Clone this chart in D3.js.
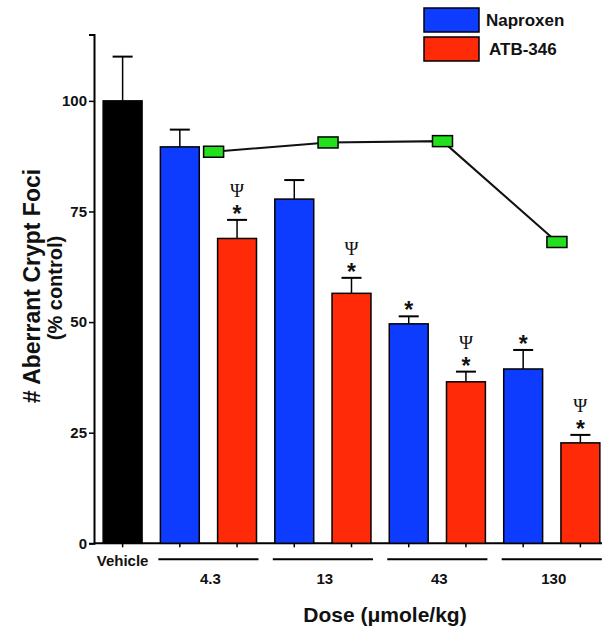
<!DOCTYPE html>
<html>
<head>
<meta charset="utf-8">
<script src="https://cdn.jsdelivr.net/npm/d3@7"></script>
<style>
  body { margin: 0; background: #fff; }
  text { font-family: "Liberation Sans", Arial, sans-serif; font-weight: bold; fill: #111; }
</style>
</head>
<body>
<script>
const bars = ['Vehicle', 'N4.3', 'A4.3', 'N13', 'A13', 'N43', 'A43', 'N130', 'A130']
const barKind = ['vehicle', 'nap', 'atb', 'nap', 'atb', 'nap', 'atb', 'nap', 'atb']
const barValues = [100, 89.6, 68.9, 77.8, 56.5, 49.6, 36.5, 39.4, 22.7]
const barErrors = [110, 93.5, 73.1, 82.1, 60.0, 51.3, 38.8, 43.7, 24.5]
const starMark = [false, false, true, false, true, true, true, true, true]
const psiMark = [false, false, true, false, true, false, true, false, true]
const doses = ['4.3', '13', '43', '130']
const doseBars = [['N4.3', 'A4.3'], ['N13', 'A13'], ['N43', 'A43'], ['N130', 'A130']]
const lineValues = [88.5, 90.6, 90.9, 68.1]
const yTicks = [0, 25, 50, 75, 100]
const legendLabels = ['Naproxen', 'ATB-346']

const color = { vehicle: '#000000', nap: '#0d3cff', atb: '#ff2a08' }

const width = 602
const height = 634

const svg = d3.select('body').append('svg')
  .attr('width', width)
  .attr('height', height)

const x = d3.scaleBand().domain(bars).range([94, 609]).paddingInner(0.32).paddingOuter(0.16)
const y = d3.scaleLinear().domain([0, 115]).range([543.3, 34.5])

// y axis
const yAxis = svg.append('g')
  .attr('transform', 'translate(94,0)')
  .call(d3.axisLeft(y).tickValues(yTicks).tickSize(5).tickPadding(2))
yAxis.select('.domain').attr('stroke', '#000').attr('stroke-width', 2)
yAxis.selectAll('.tick line').attr('stroke-width', 1.5)
yAxis.selectAll('.tick text').attr('font-size', 15)

// x axis baseline with ticks at bar centers
const xAxis = svg.append('g')
  .attr('transform', `translate(0,${y(0)})`)
  .call(d3.axisBottom(x).tickSize(4).tickFormat(''))
xAxis.select('.domain').attr('d', `M94,0H602`).attr('stroke', '#000').attr('stroke-width', 2)
xAxis.selectAll('.tick line').attr('stroke-width', 1.5)

// error bars
const errG = svg.append('g')
bars.forEach((b, i) => {
  const cx = x(b) + x.bandwidth() / 2
  errG.append('line').attr('x1', cx).attr('x2', cx).attr('y1', y(barValues[i])).attr('y2', y(barErrors[i]))
    .attr('stroke', '#000').attr('stroke-width', 1.5)
  errG.append('line').attr('x1', cx - 10).attr('x2', cx + 10).attr('y1', y(barErrors[i])).attr('y2', y(barErrors[i]))
    .attr('stroke', '#000').attr('stroke-width', 2)
})

// bars
svg.append('g').selectAll('rect')
  .data(bars)
  .enter()
  .append('rect')
  .attr('x', (d) => x(d))
  .attr('y', (d, i) => y(barValues[i]))
  .attr('width', x.bandwidth())
  .attr('height', (d, i) => y(0) - y(barValues[i]))
  .attr('fill', (d, i) => color[barKind[i]])
  .attr('stroke', '#000')
  .attr('stroke-width', 1.5)

// significance marks
bars.forEach((b, i) => {
  const cx = x(b) + x.bandwidth() / 2
  const top = y(barErrors[i])
  if (starMark[i]) {
    svg.append('text').attr('x', cx).attr('y', top + 2).attr('text-anchor', 'middle')
      .attr('font-size', 23).text('*')
  }
  if (psiMark[i]) {
    svg.append('text').attr('x', cx).attr('y', top - 23).attr('text-anchor', 'middle')
      .attr('font-size', 19)
      .style('font-weight', 'normal')
      .style('font-family', '"Liberation Serif", "DejaVu Serif", serif').text('Ψ')
  }
})

// green line series, placed at the ATB bars' left edge
const lineX = doseBars.map((d) => x(d[1]) - 4)
const line = d3.line().x((d, i) => lineX[i]).y((d) => y(d))
svg.append('path').datum(lineValues).attr('d', line)
  .attr('fill', 'none').attr('stroke', '#111').attr('stroke-width', 2)
svg.append('g').selectAll('rect')
  .data(lineValues)
  .enter()
  .append('rect')
  .attr('x', (d, i) => lineX[i] - 10)
  .attr('y', (d) => y(d) - 5.5)
  .attr('width', 20)
  .attr('height', 11)
  .attr('fill', '#22e01e')
  .attr('stroke', '#000')
  .attr('stroke-width', 1.5)

// x labels
svg.append('text').attr('x', x('Vehicle') + x.bandwidth() / 2).attr('y', y(0) + 23)
  .attr('text-anchor', 'middle').attr('font-size', 15).text('Vehicle')
doseBars.forEach((g, i) => {
  const x0 = x(g[0]) - 2
  const x1 = Math.min(x(g[1]) + x.bandwidth() + 2, 602)
  svg.append('line').attr('x1', x0).attr('x2', x1).attr('y1', y(0) + 16).attr('y2', y(0) + 16)
    .attr('stroke', '#000').attr('stroke-width', 2)
  svg.append('text').attr('x', (x0 + x1) / 2 + 2).attr('y', y(0) + 41)
    .attr('text-anchor', 'middle').attr('font-size', 15).text(doses[i])
})

// axis titles
svg.append('text').attr('x', 385).attr('y', 622).attr('text-anchor', 'middle')
  .attr('font-size', 21).text('Dose (μmole/kg)')
svg.append('text').attr('transform', 'translate(40,286) rotate(-90)').attr('text-anchor', 'middle')
  .attr('font-size', 23).text('# Aberrant Crypt Foci')
svg.append('text').attr('transform', 'translate(62,288) rotate(-90)').attr('text-anchor', 'middle')
  .attr('font-size', 20).text('(% control)')

// legend
const legend = svg.append('g').attr('transform', 'translate(424,8)')
legendLabels.forEach((l, i) => {
  legend.append('rect').attr('x', 0).attr('y', i * 29).attr('width', 55).attr('height', 24)
    .attr('fill', color[i === 0 ? 'nap' : 'atb']).attr('stroke', '#000').attr('stroke-width', 1.5)
  legend.append('text').attr('x', 62 + i * 3).attr('y', i * 29 + 18).attr('font-size', 17).text(l)
})
</script>
</body>
</html>
